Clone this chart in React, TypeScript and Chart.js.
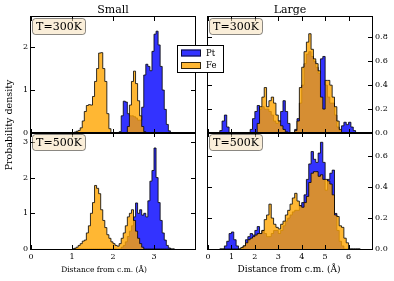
import React, { useEffect, useRef } from "react";
import { Chart, registerables } from "chart.js";

Chart.register(...registerables);

const W = 394;
const H = 281;
const FAM = "'DejaVu Serif', 'Liberation Serif', serif";

// ---- data -------------------------------------------------------------
const sizeTitles = ["Small", "Large"];
const temperatures = ["T=300K", "T=500K"];
const seriesNames = ["Pt", "Fe"];
const xAxisLabel = "Distance from c.m. (\u00c5)";
const yAxisLabel = "Probability density";

// small cluster histograms: bins of 0.05 Å starting at 1.00 Å
const smallBinStart = 1.0;
const smallBinWidth = 0.05;
// large cluster histograms: bins of 0.1 Å starting at 0.5 Å
const largeBinStart = 0.5;
const largeBinWidth = 0.1;

const smallT300Pt = [
  0, 0, 0, 0, 0, 0, 0, 0, 0, 0,
  0, 0, 0, 0, 0, 0, 0, 0, 0, 0,
  0, 0, 0, 0.03, 0.4, 0.74, 0.72, 0.45, 0.4, 0.4,
  0.38, 0.35, 0.3, 0.3, 0.6, 1.35, 1.6, 1.55, 1.45, 1.9,
  2.3, 2.37, 2.05, 1.55, 1.0, 0.55, 0.2, 0.05, 0, 0,
];
const smallT300Fe = [
  0, 0.02, 0.04, 0.06, 0.12, 0.28, 0.5, 0.64, 0.66, 0.65,
  0.85, 1.2, 1.5, 1.86, 1.87, 1.5, 1.2, 0.45, 0.1, 0,
  0, 0, 0, 0, 0, 0, 0, 0.15, 0.65, 1.2,
  1.44, 1.15, 0.75, 0.4, 0.15, 0.03, 0, 0, 0, 0,
  0, 0, 0, 0, 0, 0, 0, 0, 0, 0,
];
const smallT500Pt = [
  0, 0, 0, 0, 0, 0, 0, 0, 0, 0,
  0, 0, 0, 0, 0, 0, 0, 0, 0, 0,
  0, 0, 0, 0, 0.05, 0.1, 0.2, 0.35, 0.5, 0.65,
  0.9, 1.29, 1.0, 1.1, 0.95, 1.0, 0.9, 1.35, 1.9, 2.2,
  2.83, 2.0, 1.3, 0.8, 0.45, 0.25, 0.1, 0.03, 0, 0,
];
const smallT500Fe = [
  0, 0.02, 0.05, 0.1, 0.15, 0.22, 0.25, 0.45, 0.65, 1.0,
  1.3, 1.78, 1.7, 1.55, 1.1, 0.8, 0.6, 0.4, 0.3, 0.2,
  0.15, 0.1, 0.08, 0.15, 0.3, 0.45, 0.65, 0.9, 1.0, 1.1,
  0.8, 0.5, 0.3, 0.15, 0.05, 0, 0, 0, 0, 0,
  0, 0, 0, 0, 0, 0, 0, 0, 0, 0,
];
const largeT300Pt = [
  0.02, 0.1, 0.15, 0.05, 0, 0, 0, 0, 0, 0,
  0, 0, 0, 0.03, 0.12, 0.18, 0.23, 0.2, 0.22, 0.2,
  0.2, 0.18, 0.15, 0.1, 0.08, 0.1, 0.18, 0.27, 0.18, 0.08,
  0, 0, 0.03, 0.12, 0.25, 0.4, 0.58, 0.66, 0.68, 0.64,
  0.6, 0.55, 0.5, 0.62, 0.64, 0.4, 0.3, 0.25, 0.25, 0.15,
  0.05, 0.02, 0.06, 0.09, 0.07, 0.09, 0.05, 0.02, 0, 0,
];
const largeT300Fe = [
  0, 0, 0, 0, 0, 0, 0, 0, 0, 0,
  0, 0, 0, 0, 0, 0, 0.08, 0.22, 0.3, 0.38,
  0.22, 0.27, 0.3, 0.25, 0.15, 0.1, 0.06, 0.03, 0.01, 0,
  0, 0, 0.02, 0.1, 0.38, 0.55, 0.68, 0.76, 0.83, 0.7,
  0.62, 0.58, 0.52, 0.3, 0.2, 0.44, 0.44, 0.4, 0.3, 0.22,
  0.1, 0.03, 0, 0, 0, 0, 0, 0, 0, 0,
];
const largeT500Pt = [
  0, 0, 0.02, 0.05, 0.1, 0.11, 0.06, 0.02, 0, 0,
  0.02, 0.06, 0.08, 0.1, 0.09, 0.12, 0.145, 0.1, 0.12, 0.1,
  0.08, 0.08, 0.1, 0.12, 0.12, 0.1, 0.12, 0.15, 0.18, 0.2,
  0.22, 0.24, 0.25, 0.25, 0.28, 0.3, 0.35, 0.45, 0.55, 0.63,
  0.58, 0.56, 0.62, 0.69, 0.56, 0.38, 0.45, 0.49, 0.51, 0.23,
  0.12, 0.05, 0.02, 0, 0, 0, 0, 0, 0, 0,
];
const largeT500Fe = [
  0, 0, 0, 0, 0, 0, 0, 0, 0, 0.01,
  0.02, 0.04, 0.06, 0.07, 0.08, 0.09, 0.1, 0.1, 0.12, 0.19,
  0.22, 0.29, 0.2, 0.16, 0.14, 0.13, 0.16, 0.18, 0.22, 0.25,
  0.29, 0.33, 0.36, 0.31, 0.28, 0.27, 0.3, 0.34, 0.43, 0.49,
  0.5, 0.5, 0.47, 0.48, 0.45, 0.45, 0.44, 0.42, 0.35, 0.22,
  0.21, 0.15, 0.14, 0.07, 0.04, 0, 0, 0, 0, 0,
];

const smallXTicks = [0, 1, 2, 3];
const largeXTicks = [0, 1, 2, 3, 4, 5, 6];
const smallT300YTicks = [0, 1, 2];
const smallT500YTicks = [0, 1, 2, 3];
const largeT300YTicks = [0, 0.2, 0.4, 0.6, 0.8];
const largeT500YTicks = [0, 0.2, 0.4, 0.6];

// ---- styles -------------------------------------------------------------
const PT_FILL = "rgba(0,0,255,0.8)";
const FE_FILL = "rgba(255,165,0,0.8)";
const EDGE = "rgba(0,0,0,0.8)";

type Area = { left: number; top: number; right: number; bottom: number };
type Panel = {
  key: string;
  area: Area;
  xMax: number;
  yMax: number;
  xTicks: number[];
  yTicks: number[];
  yPos: "left" | "right";
  showX: boolean;
  binStart: number;
  binWidth: number;
  pt: number[];
  fe: number[];
  temp: string;
  title?: string;
  xTitle?: { cx: number; size: number };
  yDecimals: number;
  yLabel?: boolean;
  legend?: boolean;
};

const panels: Panel[] = [
  {
    key: "tl",
    area: { left: 31, top: 17, right: 195, bottom: 133 },
    xMax: 4, yMax: 2.7,
    xTicks: smallXTicks, yTicks: smallT300YTicks,
    yPos: "left", showX: false,
    binStart: smallBinStart, binWidth: smallBinWidth,
    pt: smallT300Pt, fe: smallT300Fe,
    temp: temperatures[0], title: sizeTitles[0], yDecimals: 0, yLabel: true,
  },
  {
    key: "bl",
    area: { left: 31, top: 133, right: 195, bottom: 249 },
    xMax: 4, yMax: 3.25,
    xTicks: smallXTicks, yTicks: smallT500YTicks,
    yPos: "left", showX: true,
    binStart: smallBinStart, binWidth: smallBinWidth,
    pt: smallT500Pt, fe: smallT500Fe,
    temp: temperatures[1], xTitle: { cx: 104, size: 7.5 }, yDecimals: 0,
  },
  {
    key: "tr",
    area: { left: 208, top: 17, right: 372, bottom: 133 },
    xMax: 7, yMax: 0.97,
    xTicks: largeXTicks, yTicks: largeT300YTicks,
    yPos: "right", showX: false,
    binStart: largeBinStart, binWidth: largeBinWidth,
    pt: largeT300Pt, fe: largeT300Fe,
    temp: temperatures[0], title: sizeTitles[1], yDecimals: 1,
  },
  {
    key: "br",
    area: { left: 208, top: 133, right: 372, bottom: 249 },
    xMax: 7, yMax: 0.75,
    xTicks: largeXTicks, yTicks: largeT500YTicks,
    yPos: "right", showX: true,
    binStart: largeBinStart, binWidth: largeBinWidth,
    pt: largeT500Pt, fe: largeT500Fe,
    temp: temperatures[1], xTitle: { cx: 289, size: 9 }, yDecimals: 1, legend: true,
  },
];

function histPoints(start: number, width: number, values: number[]) {
  const pts = [{ x: start, y: 0 }];
  values.forEach((v, i) => pts.push({ x: start + i * width, y: v }));
  pts.push({ x: start + values.length * width, y: 0 });
  return pts;
}

function roundRect(ctx: CanvasRenderingContext2D, x: number, y: number, w: number, h: number, r: number) {
  ctx.beginPath();
  ctx.moveTo(x + r, y);
  ctx.lineTo(x + w - r, y);
  ctx.arcTo(x + w, y, x + w, y + r, r);
  ctx.lineTo(x + w, y + h - r);
  ctx.arcTo(x + w, y + h, x + w - r, y + h, r);
  ctx.lineTo(x + r, y + h);
  ctx.arcTo(x, y + h, x, y + h - r, r);
  ctx.lineTo(x, y + r);
  ctx.arcTo(x, y, x + r, y, r);
  ctx.closePath();
}

function decorPlugin(p: Panel) {
  return {
    id: "decor_" + p.key,
    afterDraw(chart: any) {
      const ctx: CanvasRenderingContext2D = chart.ctx;
      const ca = chart.chartArea;
      const xs = chart.scales.x;
      const ys = chart.scales.y;
      const L = Math.round(ca.left);
      const R = Math.round(ca.right);
      const T = Math.round(ca.top);
      const B = Math.round(ca.bottom);
      ctx.save();
      // frame
      ctx.strokeStyle = "#000";
      ctx.lineWidth = 1;
      ctx.strokeRect(L - 0.5, T - 0.5, R - L + 1, B - T + 1);
      // inward ticks on all sides
      ctx.beginPath();
      p.yTicks.forEach((v) => {
        const y = Math.round(ys.getPixelForValue(v)) + 0.5;
        ctx.moveTo(L, y); ctx.lineTo(L + 4, y);
        ctx.moveTo(R, y); ctx.lineTo(R - 4, y);
      });
      p.xTicks.forEach((v) => {
        const x = Math.round(xs.getPixelForValue(v)) + 0.5;
        ctx.moveTo(x, T); ctx.lineTo(x, T + 4);
        ctx.moveTo(x, B); ctx.lineTo(x, B - 4);
      });
      ctx.stroke();
      // temperature box
      const bx = L + 1.5, by = T + 1.5, bw = 53, bh = 16;
      roundRect(ctx, bx, by, bw, bh, 3);
      ctx.fillStyle = "rgba(245,222,179,0.5)";
      ctx.fill();
      ctx.strokeStyle = "rgba(0,0,0,0.45)";
      ctx.stroke();
      ctx.fillStyle = "#000";
      ctx.font = `11px ${FAM}`;
      ctx.textAlign = "center";
      ctx.textBaseline = "middle";
      ctx.fillText(p.temp, bx + bw / 2, by + bh / 2 + 0.5);
      // column title
      if (p.title) {
        ctx.font = `11px ${FAM}`;
        ctx.textBaseline = "alphabetic";
        ctx.fillText(p.title, (L + R) / 2, 13);
      }
      // x axis title
      if (p.xTitle) {
        ctx.font = `${p.xTitle.size}px ${FAM}`;
        ctx.textBaseline = "alphabetic";
        ctx.fillText(xAxisLabel, p.xTitle.cx, 271.5);
      }
      // shared y label
      if (p.yLabel) {
        ctx.save();
        ctx.translate(9.5, 125);
        ctx.rotate(-Math.PI / 2);
        ctx.font = `9.5px ${FAM}`;
        ctx.textBaseline = "middle";
        ctx.textAlign = "center";
        ctx.fillText(yAxisLabel, 0, 0);
        ctx.restore();
      }
      // legend
      if (p.legend) {
        ctx.fillStyle = "#fff";
        ctx.fillRect(177.5, 45.5, 46, 27);
        ctx.strokeStyle = "#000";
        ctx.strokeRect(177.5, 45.5, 46, 27);
        const fills = [PT_FILL, FE_FILL];
        const ys2 = [53, 65.5];
        seriesNames.forEach((name, i) => {
          ctx.fillStyle = fills[i];
          ctx.fillRect(181, ys2[i] - 3.5, 20, 7);
          ctx.strokeStyle = EDGE;
          ctx.strokeRect(181.5, ys2[i] - 3, 19, 6);
          ctx.fillStyle = "#000";
          ctx.font = `8.5px ${FAM}`;
          ctx.textAlign = "left";
          ctx.textBaseline = "middle";
          ctx.fillText(name, 206, ys2[i] + 0.5);
        });
      }
      ctx.restore();
    },
  };
}

function buildConfig(p: Panel): any {
  const tickFont = { family: FAM, size: 8 };
  return {
    type: "line",
    data: {
      datasets: [
        {
          label: seriesNames[1],
          data: histPoints(p.binStart, p.binWidth, p.fe),
          stepped: true,
          fill: "origin",
          backgroundColor: FE_FILL,
          borderColor: EDGE,
          borderWidth: 1,
          pointRadius: 0,
          tension: 0,
          order: 0,
        },
        {
          label: seriesNames[0],
          data: histPoints(p.binStart, p.binWidth, p.pt),
          stepped: true,
          fill: "origin",
          backgroundColor: PT_FILL,
          borderColor: EDGE,
          borderWidth: 1,
          pointRadius: 0,
          tension: 0,
          order: 1,
        },
      ],
    },
    options: {
      animation: false,
      responsive: false,
      devicePixelRatio: 1,
      events: [],
      layout: {
        padding: {
          left: p.yPos === "left" ? 0 : p.area.left,
          right: p.yPos === "left" ? W - p.area.right : 0,
          top: p.area.top,
          bottom: p.showX ? 0 : H - p.area.bottom,
        },
      },
      plugins: {
        legend: { display: false },
        tooltip: { enabled: false },
        title: { display: false },
      },
      scales: {
        x: {
          type: "linear",
          position: "bottom",
          min: 0,
          max: p.xMax,
          grid: { display: false, drawTicks: false },
          border: { display: false },
          ticks: {
            display: p.showX,
            font: tickFont,
            color: "#000",
            padding: 3,
            maxRotation: 0,
            autoSkip: false,
            callback: (v: number) => String(v),
          },
          afterBuildTicks: (s: any) => {
            s.ticks = p.xTicks.map((value) => ({ value }));
          },
          afterFit: (s: any) => {
            s.height = p.showX ? H - p.area.bottom : 0;
          },
        },
        y: {
          type: "linear",
          position: p.yPos,
          min: 0,
          max: p.yMax,
          grid: { display: false, drawTicks: false },
          border: { display: false },
          ticks: {
            font: tickFont,
            color: "#000",
            padding: 3,
            autoSkip: false,
            callback: (v: number) => Number(v).toFixed(p.yDecimals),
          },
          afterBuildTicks: (s: any) => {
            s.ticks = p.yTicks.map((value) => ({ value }));
          },
          afterFit: (s: any) => {
            s.width = p.yPos === "left" ? p.area.left : W - p.area.right;
          },
        },
      },
    },
    plugins: [decorPlugin(p)],
  };
}

export default function App() {
  const canvases = useRef<(HTMLCanvasElement | null)[]>([]);
  useEffect(() => {
    const charts = panels.map((p, i) => new Chart(canvases.current[i] as HTMLCanvasElement, buildConfig(p)));
    return () => charts.forEach((c) => c.destroy());
  }, []);
  return (
    <div style={{ position: "fixed", left: 0, top: 0, width: W, height: H, background: "#fff", overflow: "hidden" }}>
      {panels.map((p, i) => (
        <canvas
          key={p.key}
          ref={(el) => { canvases.current[i] = el; }}
          width={W}
          height={H}
          style={{ position: "absolute", left: 0, top: 0, width: W, height: H }}
        />
      ))}
    </div>
  );
}
